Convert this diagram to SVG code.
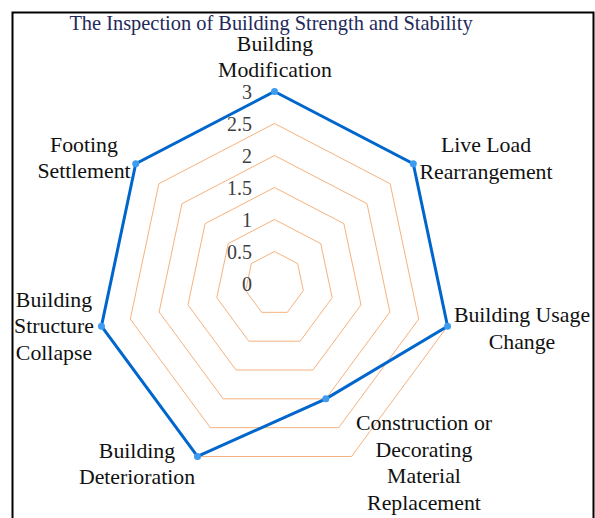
<svg xmlns="http://www.w3.org/2000/svg" width="595" height="518" viewBox="0 0 595 518">
<style>
.ring{fill:none;stroke:#F5B27F;stroke-width:1}
.lbl{font-family:"Liberation Serif","Times New Roman",serif;font-size:21.8px;fill:#111;text-anchor:middle}
.tick{font-family:"Liberation Serif","Times New Roman",serif;font-size:20px;fill:#404040;text-anchor:end}
.title{font-family:"Liberation Serif","Times New Roman",serif;font-size:20.4px;fill:#1F2A5C;text-anchor:middle}
.series{fill:none;stroke:#0066CC;stroke-width:3;stroke-linejoin:miter}
.pt{fill:#3D9BF0}
</style>
<rect x="0" y="0" width="595" height="518" fill="#fff"/>
<path d="M12.5,530 V12.5 H593.5 V530" fill="none" stroke="#000" stroke-width="2"/>
<text id="title" class="title" x="271" y="30">The Inspection of Building Strength and Stability</text>
<g id="grid">
<polygon class="ring" points="274.5,251.5 297.63,263.55 303.34,290.62 287.34,312.33 261.66,312.33 245.66,290.62 251.37,263.55"/>
<polygon class="ring" points="274.5,219.5 320.76,243.6 332.18,297.74 300.17,341.16 248.83,341.16 216.82,297.74 228.24,243.6"/>
<polygon class="ring" points="274.5,187.5 343.89,223.64 361.02,304.86 313.01,369.99 235.99,369.99 187.98,304.86 205.11,223.64"/>
<polygon class="ring" points="274.5,155.5 367.02,203.69 389.87,311.98 325.84,398.82 223.16,398.82 159.13,311.98 181.98,203.69"/>
<polygon class="ring" points="274.5,123.5 390.15,183.74 418.71,319.1 338.68,427.66 210.32,427.66 130.29,319.1 158.85,183.74"/>
<polygon class="ring" points="274.5,91.5 413.27,163.79 447.55,326.22 351.51,456.49 197.49,456.49 101.45,326.22 135.73,163.79"/>
</g>
<g id="ticks">
<text class="tick" x="252" y="99">3</text>
<text class="tick" x="252" y="131">2.5</text>
<text class="tick" x="252" y="163">2</text>
<text class="tick" x="252" y="195">1.5</text>
<text class="tick" x="252" y="227">1</text>
<text class="tick" x="252" y="259">0.5</text>
<text class="tick" x="252" y="291">0</text>
</g>
<g id="series">
<polygon class="series" points="274.5,91.5 413.27,163.79 447.55,326.22 325.84,398.82 197.49,456.49 101.45,326.22 135.73,163.79"/>
<circle class="pt" cx="274.5" cy="91.5" r="3.5"/>
<circle class="pt" cx="413.27" cy="163.79" r="3.5"/>
<circle class="pt" cx="447.55" cy="326.22" r="3.5"/>
<circle class="pt" cx="325.84" cy="398.82" r="3.5"/>
<circle class="pt" cx="197.49" cy="456.49" r="3.5"/>
<circle class="pt" cx="101.45" cy="326.22" r="3.5"/>
<circle class="pt" cx="135.73" cy="163.79" r="3.5"/>
</g>
<g id="axis-modification"><text class="lbl" x="275" y="51">Building</text><text class="lbl" x="275" y="77">Modification</text></g>
<g id="axis-liveload"><text class="lbl" x="486" y="152">Live Load</text><text class="lbl" x="486" y="179">Rearrangement</text></g>
<g id="axis-usage"><text class="lbl" x="522" y="322">Building Usage</text><text class="lbl" x="522" y="349">Change</text></g>
<g id="axis-material"><text class="lbl" x="424" y="430">Construction or</text><text class="lbl" x="424" y="457">Decorating</text><text class="lbl" x="424" y="483">Material</text><text class="lbl" x="424" y="510">Replacement</text></g>
<g id="axis-deterioration"><text class="lbl" x="137" y="458">Building</text><text class="lbl" x="137" y="484">Deterioration</text></g>
<g id="axis-collapse"><text class="lbl" x="54" y="307">Building</text><text class="lbl" x="54" y="333">Structure</text><text class="lbl" x="54" y="360">Collapse</text></g>
<g id="axis-footing"><text class="lbl" x="84" y="152">Footing</text><text class="lbl" x="84" y="178">Settlement</text></g>
</svg>
